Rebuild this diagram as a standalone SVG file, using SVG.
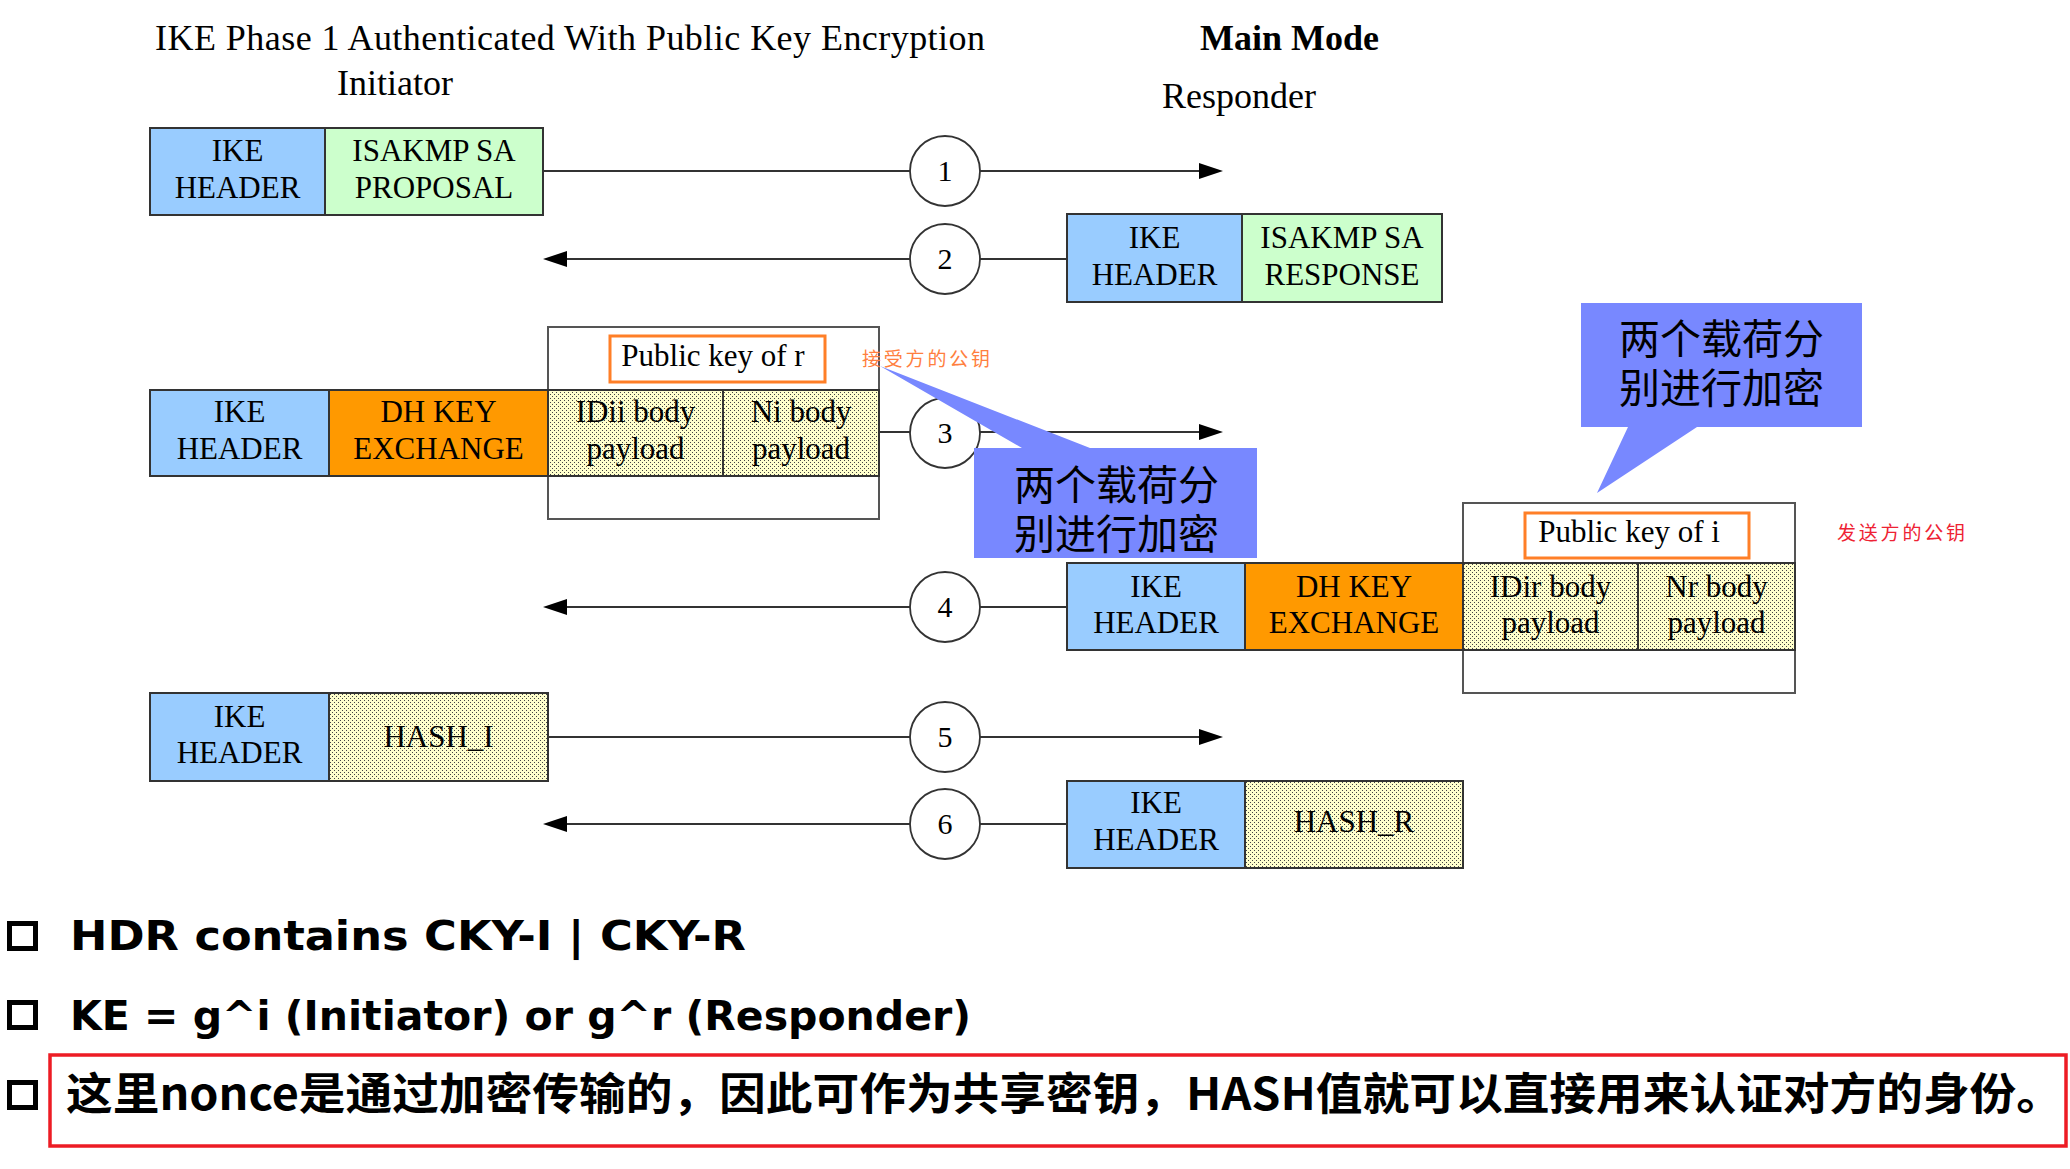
<svg xmlns="http://www.w3.org/2000/svg" width="2070" height="1169" viewBox="0 0 2070 1169">
<style>
.t{font-family:"Liberation Serif","Times New Roman",serif;font-size:31px;fill:#000;text-anchor:middle}
.h{font-family:"Liberation Serif","Times New Roman",serif;font-size:36px;fill:#000}
.num{font-family:"Liberation Serif","Times New Roman",serif;font-size:30px;fill:#000;text-anchor:middle}
.box{stroke:#333;stroke-width:2}
.blue{fill:#99CCFF}
.green{fill:#CCFFCC}
.orange{fill:#FF9900}
.dot{fill:url(#dots)}
.outer{fill:#fff;stroke:#555;stroke-width:2}
.pk{fill:#fff;stroke:#FF7F27;stroke-width:3}
.conn{stroke:#333;stroke-width:2;fill:none}
.arr{stroke:#333;stroke-width:2;fill:none;marker-end:url(#ah)}
.circ{fill:#fff;stroke:#333;stroke-width:1.8}
.call{fill:#7888FF}
.ct{font-family:"Noto Sans CJK SC","Noto Sans",sans-serif;font-size:41px;fill:#000}
.note{font-family:"Noto Sans CJK SC",serif;font-size:19px;letter-spacing:2.8px}
.bl{font-family:"DejaVu Sans","Noto Sans CJK SC",sans-serif;font-weight:bold;font-size:40px;fill:#000}
.sq{fill:none;stroke:#000;stroke-width:5}
</style>
<defs>
<pattern id="dots" width="4" height="4" patternUnits="userSpaceOnUse">
<rect width="4" height="4" fill="#FFFFCC"/>
<rect x="0" y="0" width="1" height="1" fill="#444"/>
<rect x="2" y="2" width="1" height="1" fill="#444"/>
</pattern>
<marker id="ah" viewBox="0 0 24 16" refX="4" refY="8" markerWidth="24" markerHeight="16" markerUnits="userSpaceOnUse" orient="auto">
<path d="M0,0 L24,8 L0,16 Z" fill="#000"/>
</marker>
</defs>
<rect width="2070" height="1169" fill="#fff"/>

<g id="titles">
<text class="h" x="155" y="50" textLength="830">IKE Phase 1 Authenticated With Public Key Encryption</text>
<text class="h" x="337" y="95">Initiator</text>
<text class="h" x="1200" y="50" font-weight="bold">Main Mode</text>
<text class="h" x="1162" y="108">Responder</text>
</g>

<g id="connectors">
<line class="conn" x1="543" y1="171" x2="910" y2="171"/>
<line class="arr" x1="980" y1="171" x2="1203" y2="171"/>
<line class="conn" x1="1067" y1="259" x2="980" y2="259"/>
<line class="arr" x1="910" y1="259" x2="563" y2="259"/>
<line class="conn" x1="879" y1="432" x2="910" y2="432"/>
<line class="arr" x1="980" y1="432" x2="1203" y2="432"/>
<line class="conn" x1="1067" y1="607" x2="980" y2="607"/>
<line class="arr" x1="910" y1="607" x2="563" y2="607"/>
<line class="conn" x1="548" y1="737" x2="910" y2="737"/>
<line class="arr" x1="980" y1="737" x2="1203" y2="737"/>
<line class="conn" x1="1067" y1="824" x2="980" y2="824"/>
<line class="arr" x1="910" y1="824" x2="563" y2="824"/>
</g>

<g id="step1">
<circle class="circ" cx="945" cy="171" r="35"/><text class="num" x="945" y="181">1</text>
</g>
<g id="step2">
<circle class="circ" cx="945" cy="259" r="35"/><text class="num" x="945" y="269">2</text>
</g>
<g id="step3">
<circle class="circ" cx="945" cy="433" r="35"/><text class="num" x="945" y="443">3</text>
</g>
<g id="step4">
<circle class="circ" cx="945" cy="607" r="35"/><text class="num" x="945" y="617">4</text>
</g>
<g id="step5">
<circle class="circ" cx="945" cy="737" r="35"/><text class="num" x="945" y="747">5</text>
</g>
<g id="step6">
<circle class="circ" cx="945" cy="824" r="35"/><text class="num" x="945" y="834">6</text>
</g>

<g id="msg1">
<rect class="box blue" x="150" y="128" width="175" height="87"/>
<rect class="box green" x="325" y="128" width="218" height="87"/>
<text class="t" x="237.5" y="161">IKE</text><text class="t" x="237.5" y="198">HEADER</text>
<text class="t" x="434" y="161">ISAKMP SA</text><text class="t" x="434" y="198">PROPOSAL</text>
</g>

<g id="msg2">
<rect class="box blue" x="1067" y="214" width="175" height="88"/>
<rect class="box green" x="1242" y="214" width="200" height="88"/>
<text class="t" x="1154.5" y="248">IKE</text><text class="t" x="1154.5" y="285">HEADER</text>
<text class="t" x="1342" y="248">ISAKMP SA</text><text class="t" x="1342" y="285">RESPONSE</text>
</g>

<g id="msg3">
<rect class="outer" x="548" y="327" width="331" height="192"/>
<rect class="pk" x="610" y="336" width="215" height="46"/>
<text class="t" x="713" y="366">Public key of r</text>
<rect class="box blue" x="150" y="390" width="179" height="86"/>
<rect class="box orange" x="329" y="390" width="219" height="86"/>
<rect class="box dot" x="548" y="390" width="175" height="86"/>
<rect class="box dot" x="723" y="390" width="156" height="86"/>
<text class="t" x="239.5" y="422">IKE</text><text class="t" x="239.5" y="459">HEADER</text>
<text class="t" x="438.5" y="422">DH KEY</text><text class="t" x="438.5" y="459">EXCHANGE</text>
<text class="t" x="635.5" y="422">IDii body</text><text class="t" x="635.5" y="459">payload</text>
<text class="t" x="801" y="422">Ni body</text><text class="t" x="801" y="459">payload</text>
<text class="note" x="862" y="366" fill="#FF7F3F">接受方的公钥</text>
</g>

<g id="msg4">
<rect class="outer" x="1463" y="503" width="332" height="190"/>
<rect class="pk" x="1525" y="513" width="224" height="45"/>
<text class="t" x="1629" y="542">Public key of i</text>
<rect class="box blue" x="1067" y="563" width="178" height="87"/>
<rect class="box orange" x="1245" y="563" width="218" height="87"/>
<rect class="box dot" x="1463" y="563" width="175" height="87"/>
<rect class="box dot" x="1638" y="563" width="157" height="87"/>
<text class="t" x="1156" y="597">IKE</text><text class="t" x="1156" y="633">HEADER</text>
<text class="t" x="1354" y="597">DH KEY</text><text class="t" x="1354" y="633">EXCHANGE</text>
<text class="t" x="1550.5" y="597">IDir body</text><text class="t" x="1550.5" y="633">payload</text>
<text class="t" x="1716.5" y="597">Nr body</text><text class="t" x="1716.5" y="633">payload</text>
<text class="note" x="1837" y="540" fill="#EE2233">发送方的公钥</text>
</g>

<g id="msg5">
<rect class="box blue" x="150" y="693" width="179" height="88"/>
<rect class="box dot" x="329" y="693" width="219" height="88"/>
<text class="t" x="239.5" y="727">IKE</text><text class="t" x="239.5" y="763">HEADER</text>
<text class="t" x="438.5" y="747">HASH_I</text>
</g>

<g id="msg6">
<rect class="box blue" x="1067" y="781" width="178" height="87"/>
<rect class="box dot" x="1245" y="781" width="218" height="87"/>
<text class="t" x="1156" y="813">IKE</text><text class="t" x="1156" y="850">HEADER</text>
<text class="t" x="1354" y="832">HASH_R</text>
</g>

<g id="callout1">
<polygon class="call" points="974,448 1022,448 880,366 1090,448 1257,448 1257,558 974,558"/>
<text class="ct" x="1014" y="500">两个载荷分</text>
<text class="ct" x="1014" y="549">别进行加密</text>
</g>

<g id="callout2">
<polygon class="call" points="1581,303 1862,303 1862,427 1697,427 1597,493 1628,427 1581,427"/>
<text class="ct" x="1619" y="354">两个载荷分</text>
<text class="ct" x="1619" y="403">别进行加密</text>
</g>

<g id="notes">
<rect class="sq" x="9.5" y="923.5" width="26" height="25"/>
<text class="bl" x="70" y="950" textLength="676" lengthAdjust="spacingAndGlyphs">HDR contains CKY-I | CKY-R</text>
<rect class="sq" x="9.5" y="1002.5" width="26" height="25"/>
<text class="bl" x="70" y="1030" textLength="901" lengthAdjust="spacingAndGlyphs">KE = g^i (Initiator) or g^r (Responder)</text>
<rect class="sq" x="9.5" y="1082.5" width="26" height="25"/>
<rect x="50" y="1055" width="2016" height="91" fill="none" stroke="#ED1C24" stroke-width="3.5"/>
<text x="66" y="1110" font-family="Noto Sans CJK SC,sans-serif" font-weight="bold" font-size="44" textLength="1997" lengthAdjust="spacingAndGlyphs">这里nonce是通过加密传输的，因此可作为共享密钥，HASH值就可以直接用来认证对方的身份。</text>
</g>
</svg>
